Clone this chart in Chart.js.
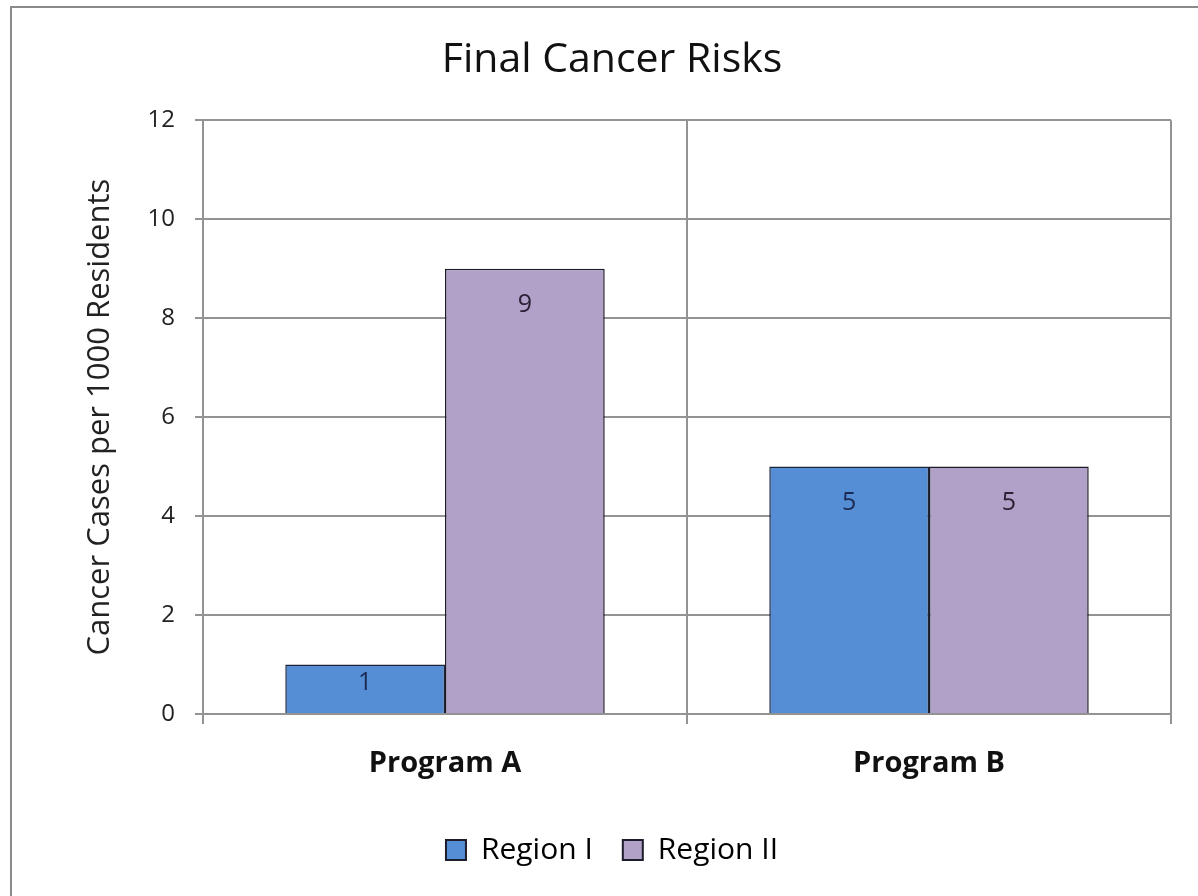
<!DOCTYPE html>
<html>
<head>
<meta charset="utf-8">
<script src="https://cdn.jsdelivr.net/npm/chart.js@4.4.0/dist/chart.umd.min.js"></script>
<style>
  html, body { margin: 0; padding: 0; background: #fff; }
  #wrap { width: 1198px; height: 896px; position: relative; }
</style>
</head>
<body>
<div id="wrap"><canvas id="grafico"></canvas></div>
<script>
// datos del grafico
const programas = ["Program A", "Program B"];
const regionI = [1, 5];
const regionII = [9, 5];
const ticksY = [0, 2, 4, 6, 8, 10, 12];

const fuente = "'Open Sans', 'DejaVu Sans', sans-serif";

// marco gris del grafico original
const marco = {
  id: "marco",
  beforeDraw(chart) {
    const ctx = chart.ctx;
    ctx.save();
    ctx.fillStyle = "#fff";
    ctx.fillRect(0, 0, chart.width, chart.height);
    ctx.strokeStyle = "#8a8a8a";
    ctx.lineWidth = 2;
    ctx.beginPath();
    ctx.moveTo(11, chart.height);
    ctx.lineTo(11, 7);
    ctx.lineTo(chart.width, 7);
    ctx.stroke();
    ctx.restore();
  },
};

// etiquetas de valor dentro de las barras
const etiquetas = {
  id: "etiquetas",
  afterDatasetsDraw(chart) {
    const ctx = chart.ctx;
    const colores = ["#1b2b55", "#2b2236"];
    ctx.save();
    ctx.font = "25px " + fuente;
    ctx.textAlign = "center";
    ctx.textBaseline = "middle";
    chart.data.datasets.forEach((ds, i) => {
      chart.getDatasetMeta(i).data.forEach((barra, j) => {
        const alto = barra.base - barra.y;
        const desp = Math.min(36, alto / 2 - 6);
        ctx.fillStyle = colores[i];
        ctx.fillText(ds.data[j], barra.x, barra.y + desp);
      });
    });
    ctx.restore();
  },
};

window.onload = function () {
  const ctx = document.getElementById("grafico").getContext("2d");
  new Chart(ctx, {
    type: "bar",
    data: {
      labels: programas,
      datasets: [
        {
          label: "Region I",
          data: regionI,
          backgroundColor: "#558ED5",
          borderColor: "#1c2438",
          borderWidth: 1.5,
        },
        {
          label: "Region II",
          data: regionII,
          backgroundColor: "#B1A0C7",
          borderColor: "#1c1c28",
          borderWidth: 1.5,
        },
      ],
    },
    options: {
      responsive: true,
      maintainAspectRatio: false,
      animation: false,
      layout: { padding: { left: 53, right: 27, top: 0, bottom: 21 } },
      datasets: {
        bar: { categoryPercentage: 0.66, barPercentage: 1.0 },
      },
      plugins: {
        title: {
          display: true,
          text: "Final Cancer Risks",
          color: "#111",
          font: { family: fuente, size: 41, weight: "normal" },
          padding: { top: 36, bottom: 35 },
        },
        legend: {
          position: "bottom",
          labels: {
            color: "#222",
            font: { family: fuente, size: 30 },
            boxWidth: 20,
            boxHeight: 20,
            padding: 30,
            generateLabels(chart) {
              return chart.data.datasets.map((ds, i) => ({
                text: ds.label,
                fillStyle: ds.backgroundColor,
                strokeStyle: "#1c1c2c",
                lineWidth: 2,
                datasetIndex: i,
              }));
            },
          },
        },
        tooltip: { enabled: false },
      },
      scales: {
        x: {
          grid: {
            color: "#939393",
            lineWidth: 2,
            tickLength: 10,
            offset: true,
          },
          border: { color: "#939393", width: 2 },
          ticks: {
            color: "#111",
            font: { family: fuente, size: 29, weight: "bold" },
            padding: 22,
          },
          afterFit(scale) {
            scale.height = 91;
          },
        },
        y: {
          min: 0,
          max: 12,
          afterBuildTicks(scale) {
            scale.ticks = ticksY.map((v) => ({ value: v }));
          },
          grid: { color: "#939393", lineWidth: 2, tickLength: 8 },
          border: { color: "#939393", width: 2 },
          ticks: {
            color: "#222",
            font: { family: fuente, size: 24 },
            padding: 20,
          },
          title: {
            display: true,
            text: "Cancer Cases per 1000 Residents",
            color: "#222",
            font: { family: fuente, size: 31 },
            padding: { top: 29, bottom: 0 },
          },
          afterFit(scale) {
            scale.width = 150;
          },
        },
      },
    },
    plugins: [marco, etiquetas],
  });
};
</script>
</body>
</html>
